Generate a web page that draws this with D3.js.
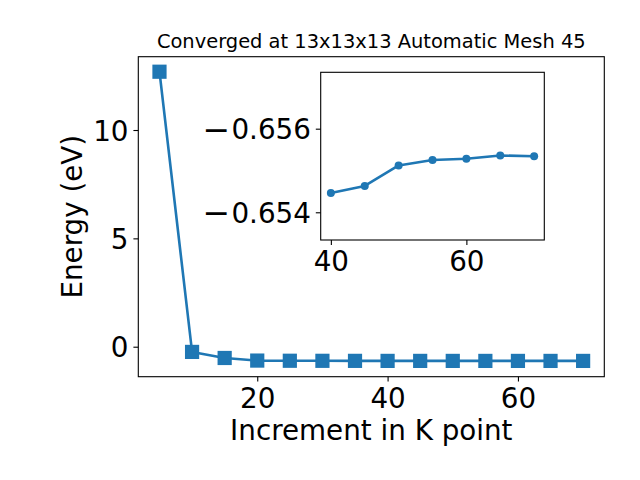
<!DOCTYPE html>
<html>
<head>
<meta charset="utf-8">
<script src="https://cdn.jsdelivr.net/npm/d3@7"></script>
<style>
  html, body { margin: 0; padding: 0; background: #fff; }
  svg { display: block; font-family: "DejaVu Sans", sans-serif; }
</style>
</head>
<body>
<svg id="chart" width="640" height="480"></svg>
<script>
// ---- data ----
const kpoints = [5, 10, 15, 20, 25, 30, 35, 40, 45, 50, 55, 60, 65, 70];
const energy = [12.69, -0.24, -0.52, -0.64, -0.648, -0.651, -0.653,
                -0.65446, -0.65463, -0.65512, -0.65525, -0.65528, -0.65536, -0.65534];
const insetK = [40, 45, 50, 55, 60, 65, 70];
const insetEnergy = [-0.65446, -0.65463, -0.65512, -0.65525, -0.65528, -0.65536, -0.65534];
const mainXTicks = [20, 40, 60];
const mainYTicks = [0, 5, 10];
const insetXTicks = [40, 60];
const insetYTicks = [-0.656, -0.654];
const titleText = "Converged at 13x13x13 Automatic Mesh 45";
const xLabel = "Increment in K point";
const yLabel = "Energy (eV)";

const color = "#1f77b4";
const svg = d3.select("#chart");
const tickFont = 27.78;

// ---- main axes ----
const M = { left: 138.3, right: 604.3, top: 56.7, bottom: 376.7 };
const x = d3.scaleLinear().domain([1.75, 73.25]).range([M.left, M.right]);
const y = d3.scaleLinear().domain([-1.384, 13.383]).range([M.bottom, M.top]);

function styleAxis(g) {
  g.select(".domain").remove();
  g.selectAll(".tick line").attr("stroke", "#000").attr("stroke-width", 1.1);
  g.selectAll(".tick text").attr("fill", "#000")
    .style("font-size", tickFont + "px").style("font-family", "DejaVu Sans");
}

svg.append("g").attr("transform", `translate(0,${M.bottom})`)
  .call(d3.axisBottom(x).tickValues(mainXTicks).tickSize(4.9).tickPadding(4.9).tickSizeOuter(0).tickFormat(d3.format("d")))
  .call(styleAxis)
  .selectAll(".tick text").attr("dy", "0.76em");

svg.append("g").attr("transform", `translate(${M.left},0)`)
  .call(d3.axisLeft(y).tickValues(mainYTicks).tickSize(4.9).tickPadding(4.9).tickSizeOuter(0).tickFormat(d3.format("d")))
  .call(styleAxis)
  .selectAll(".tick text").attr("dy", "0.36em");

const line = d3.line().x((d, i) => x(kpoints[i])).y(d => y(d));
svg.append("path").datum(energy)
  .attr("d", line).attr("fill", "none").attr("stroke", color)
  .attr("stroke-width", 2.6).attr("stroke-linejoin", "round");

const sq = 14.2;
svg.append("g").selectAll("rect").data(energy).join("rect")
  .attr("x", (d, i) => x(kpoints[i]) - sq / 2)
  .attr("y", d => y(d) - sq / 2)
  .attr("width", sq).attr("height", sq)
  .attr("fill", color);

svg.append("rect")
  .attr("x", M.left).attr("y", M.top)
  .attr("width", M.right - M.left).attr("height", M.bottom - M.top)
  .attr("fill", "none").attr("stroke", "#000").attr("stroke-width", 1.1);

// title & labels
svg.append("text").attr("x", (M.left + M.right) / 2).attr("y", 47.7)
  .attr("text-anchor", "middle").style("font-size", "19.44px").attr("fill", "#000")
  .text(titleText);

svg.append("text").attr("x", (M.left + M.right) / 2).attr("y", 440)
  .attr("text-anchor", "middle").style("font-size", tickFont + "px").attr("fill", "#000")
  .text(xLabel);

svg.append("text")
  .attr("transform", `translate(81.7,${(M.top + M.bottom) / 2}) rotate(-90)`)
  .attr("text-anchor", "middle").style("font-size", tickFont + "px").attr("fill", "#000")
  .text(yLabel);

// ---- inset axes ----
const I = { left: 320.7, right: 544.3, top: 72.3, bottom: 240 };
svg.append("rect")
  .attr("x", I.left).attr("y", I.top)
  .attr("width", I.right - I.left).attr("height", I.bottom - I.top)
  .attr("fill", "#fff");

const xi = d3.scaleLinear().domain([38.5, 71.5]).range([I.left, I.right]);
const yi = d3.scaleLinear().domain([-0.653337, -0.657349]).range([I.bottom, I.top]);

svg.append("g").attr("transform", `translate(0,${I.bottom})`)
  .call(d3.axisBottom(xi).tickValues(insetXTicks).tickSize(4.9).tickPadding(4.9).tickSizeOuter(0).tickFormat(d3.format("d")))
  .call(styleAxis)
  .selectAll(".tick text").attr("dy", "0.76em");

const fmtAbs = d3.format(".3f");
svg.append("g").attr("transform", `translate(${I.left},0)`)
  .call(d3.axisLeft(yi).tickValues(insetYTicks).tickSize(4.9).tickPadding(4.9).tickSizeOuter(0).tickFormat(d3.format(".3f")))
  .call(styleAxis)
  .selectAll(".tick text")
  .attr("dy", null)
  .each(function(d) {
    const t = d3.select(this);
    t.text("");
    t.append("tspan").style("font-size", "33px").attr("dy", "11.5").text("\u2212");
    t.append("tspan").attr("dy", "-1.5").attr("dx", "1.2").text(fmtAbs(Math.abs(d)));
  });

const lineI = d3.line().x((d, i) => xi(insetK[i])).y(d => yi(d));
svg.append("path").datum(insetEnergy)
  .attr("d", lineI).attr("fill", "none").attr("stroke", color)
  .attr("stroke-width", 2.6).attr("stroke-linejoin", "round");

svg.append("g").selectAll("circle").data(insetEnergy).join("circle")
  .attr("cx", (d, i) => xi(insetK[i]))
  .attr("cy", d => yi(d))
  .attr("r", 4).attr("fill", color);

svg.append("rect")
  .attr("x", I.left).attr("y", I.top)
  .attr("width", I.right - I.left).attr("height", I.bottom - I.top)
  .attr("fill", "none").attr("stroke", "#000").attr("stroke-width", 1.1);
</script>
</body>
</html>
